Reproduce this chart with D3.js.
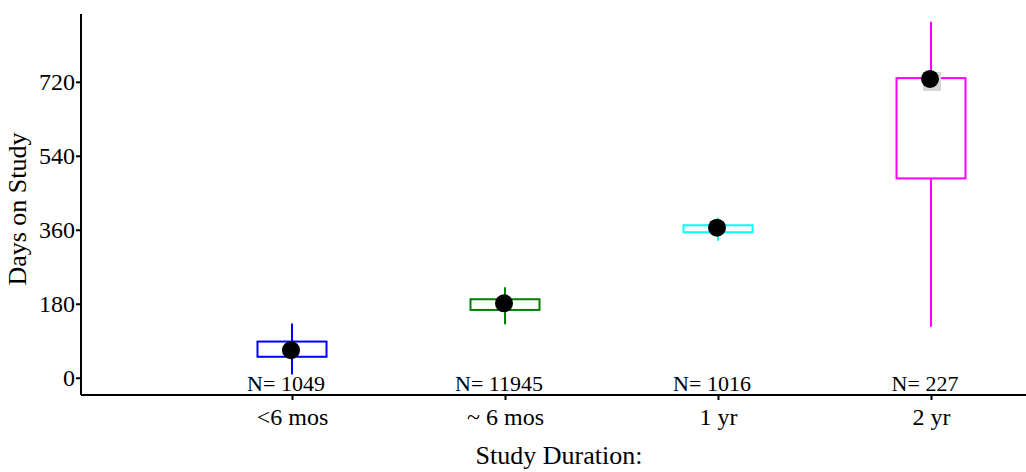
<!DOCTYPE html>
<html>
<head>
<meta charset="utf-8">
<script src="https://cdn.jsdelivr.net/npm/d3@7"></script>
<style>
  html, body { margin: 0; padding: 0; background: #fff; }
  svg { display: block; }
  text { font-family: "Liberation Serif", "Times New Roman", serif; fill: #000; }
</style>
</head>
<body>
<svg id="chart" width="1026" height="472"></svg>
<script>
// Days on study by planned study duration
const categories = ["<6 mos", "~ 6 mos", "1 yr", "2 yr"];
const counts     = [1049, 11945, 1016, 227];
const whiskerLow = [8, 130, 333, 124];
const q1         = [51, 165, 354, 485];
const q3         = [88, 191, 371, 729];
const whiskerHigh= [132, 220, 389, 866];
const centers    = [67, 181, 365, 727];
const colors     = ["#0000ff", "#008000", "#00ffff", "#ff00ff"];
const yTicks     = [0, 180, 360, 540, 720];

const svg = d3.select("#chart");
const plotLeft = 81, plotRight = 1026, plotTop = 14, plotBottom = 395;

const x = d3.scalePoint().domain(categories).range([292, 931]);
const y = d3.scaleLinear().domain([-42, 885]).range([plotBottom, plotTop]);
const boxW = 69;

// axes
const yAxis = d3.axisLeft(y).tickValues(yTicks).tickSize(5).tickPadding(1).tickSizeOuter(0);
const gy = svg.append("g").attr("transform", `translate(${plotLeft},0)`).call(yAxis);
gy.select(".domain").attr("stroke", "#000").attr("stroke-width", 2).attr("d", `M0,${plotTop}V${plotBottom}`);
gy.selectAll(".tick line").attr("stroke", "#000").attr("stroke-width", 2);
gy.selectAll(".tick text").style("font-size", "24px").attr("fill", "#000")
  .style("font-family", '"Liberation Serif", serif');

const xAxis = d3.axisBottom(x).tickSize(5).tickPadding(8).tickSizeOuter(0);
const gx = svg.append("g").attr("transform", `translate(0,${plotBottom})`).call(xAxis);
gx.select(".domain").attr("stroke", "#000").attr("stroke-width", 2).attr("d", `M${plotLeft},0H${plotRight}`);
gx.selectAll(".tick line").attr("stroke", "#000").attr("stroke-width", 2);
gx.selectAll(".tick text").style("font-size", "24px").attr("fill", "#000")
  .style("font-family", '"Liberation Serif", serif').attr("dy", "0.71em");

// axis titles
svg.append("text")
  .attr("x", 559).attr("y", 464)
  .attr("text-anchor", "middle")
  .style("font-size", "26px")
  .text("Study Duration:");

svg.append("text")
  .attr("transform", "translate(26,209) rotate(-90)")
  .attr("text-anchor", "middle")
  .style("font-size", "26px")
  .text("Days on Study");

// box plots
const rows = categories.map((c, i) => ({
  c, n: counts[i], lo: whiskerLow[i], q1: q1[i], q3: q3[i], hi: whiskerHigh[i],
  m: centers[i], color: colors[i]
}));

const g = svg.append("g");
const box = g.selectAll("g.box").data(rows).join("g").attr("class", "box");

box.append("line")
  .attr("x1", d => x(d.c)).attr("x2", d => x(d.c))
  .attr("y1", d => y(d.hi)).attr("y2", d => y(d.q3))
  .attr("stroke", d => d.color).attr("stroke-width", 2);
box.append("line")
  .attr("x1", d => x(d.c)).attr("x2", d => x(d.c))
  .attr("y1", d => y(d.q1)).attr("y2", d => y(d.lo))
  .attr("stroke", d => d.color).attr("stroke-width", 2);
box.append("rect")
  .attr("x", d => x(d.c) - boxW / 2).attr("width", boxW)
  .attr("y", d => y(d.q3)).attr("height", d => y(d.q1) - y(d.q3))
  .attr("fill", "none").attr("stroke", d => d.color).attr("stroke-width", 2);

// shaded backing behind the last marker
box.filter((d, i) => i === rows.length - 1).append("rect")
  .attr("x", d => x(d.c) - 8).attr("y", d => y(d.m) - 7)
  .attr("width", 18).attr("height", 19)
  .attr("fill", "#d4d4d4");

box.append("circle")
  .attr("cx", d => x(d.c) - 1).attr("cy", d => y(d.m))
  .attr("r", 9).attr("fill", "#000");

// sample sizes
box.append("text")
  .attr("x", d => x(d.c) - 6).attr("y", 391)
  .attr("text-anchor", "middle")
  .style("font-size", "22px")
  .text(d => "N= " + d.n);
</script>
</body>
</html>
